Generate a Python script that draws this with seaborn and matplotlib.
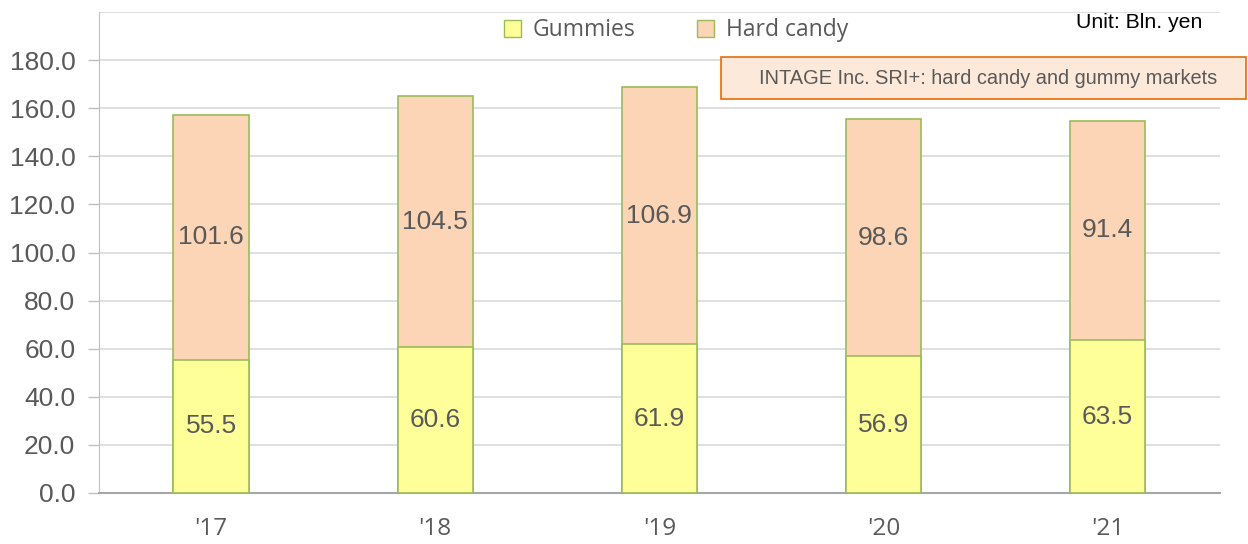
import numpy as np
import pandas as pd
import seaborn as sns
from matplotlib import pyplot as plt
from matplotlib.patches import Patch, Rectangle

# data
years = ["'17", "'18", "'19", "'20", "'21"]
gummies = [55.5, 60.6, 61.9, 56.9, 63.5]
hard_candy = [101.6, 104.5, 106.9, 98.6, 91.4]

gummy_color = '#FFFF99'
candy_color = '#FBD5B5'
edge_color = '#9BBB59'
label_color = '#595959'

dat = pd.DataFrame({'year': years, 'gummies': gummies, 'hard_candy': hard_candy})
dat['total'] = dat['gummies'] + dat['hard_candy']

sns.set_style('white')
plt.rcParams['font.family'] = ['Liberation Sans', 'DejaVu Sans']

fig = plt.figure(figsize=(12.48, 5.44), dpi=100)
ax = fig.add_axes([0.0793, 0.0938, 0.898, 0.884])

# stacked bars: draw totals (hard candy colour) then gummies over them
sns.barplot(data=dat, x='year', y='total', color=candy_color, width=0.335,
            edgecolor=edge_color, linewidth=1.2, saturation=1, ax=ax, zorder=3)
sns.barplot(data=dat, x='year', y='gummies', color=gummy_color, width=0.335,
            edgecolor=edge_color, linewidth=1.2, saturation=1, ax=ax, zorder=3)

# value labels centred in each segment
for i in range(len(years)):
    ax.text(i, gummies[i] / 2, f'{gummies[i]:.1f}', ha='center', va='center',
            fontsize=19, color=label_color, zorder=4)
    ax.text(i, gummies[i] + hard_candy[i] / 2, f'{hard_candy[i]:.1f}', ha='center',
            va='center', fontsize=19, color=label_color, zorder=4)

ax.set_xlim(-0.5, 4.5)
ax.set_ylim(0, 200)
ax.set_yticks(np.arange(0, 181, 20))
ax.set_yticklabels([f'{v:.1f}' for v in np.arange(0, 181, 20)], fontsize=19, color=label_color)
for v in np.arange(20, 201, 20):
    ax.axhline(v, color='#D9D9D9', lw=1.2, zorder=0)

ax.set_xticks(range(len(years)))
ax.set_xticklabels(years, fontsize=17.5, color=label_color, family=['Open Sans', 'DejaVu Sans'])
ax.set_xticks(np.arange(-0.5, 5, 1), minor=True)
ax.tick_params(axis='x', which='major', length=0, pad=17)
ax.tick_params(axis='x', which='minor', length=8, width=1.2, color='#A6A6A6', direction='out')
ax.tick_params(axis='y', length=8, width=1, color='#BFBFBF', direction='out', left=True, pad=9)
ax.set_xlabel('')
ax.set_ylabel('')

for s in ['top', 'right']:
    ax.spines[s].set_visible(False)
ax.spines['left'].set_color('#BFBFBF')
ax.spines['bottom'].set_color('#A6A6A6')
ax.spines['bottom'].set_linewidth(1.5)

# legend
handles = [Patch(facecolor=gummy_color, edgecolor=edge_color, label='Gummies'),
           Patch(facecolor=candy_color, edgecolor=edge_color, label='Hard candy')]
leg = fig.legend(handles=handles, loc='center', bbox_to_anchor=(0.5415, 0.944), ncol=2,
                 frameon=False, handlelength=0.75, handleheight=0.75, handletextpad=0.5,
                 columnspacing=2.7, prop={'family': ['Open Sans', 'DejaVu Sans'], 'size': 16.5})
for t in leg.get_texts():
    t.set_color(label_color)

fig.text(1202 / 1248, 0.958, 'Unit: Bln. yen', ha='right', va='center', fontsize=15.3,
         color='black')

# source box
fig.patches.append(Rectangle((721 / 1248, 1 - 99 / 544), 525 / 1248, 42 / 544,
                             transform=fig.transFigure, facecolor='#FDE9D9',
                             edgecolor='#E46C0A', lw=1.2))
fig.text(988 / 1248, 1 - 79 / 544, 'INTAGE Inc. SRI+: hard candy and gummy markets',
         ha='center', va='center', fontsize=14.4, color=label_color)

fig.savefig('out.png', dpi=100)
